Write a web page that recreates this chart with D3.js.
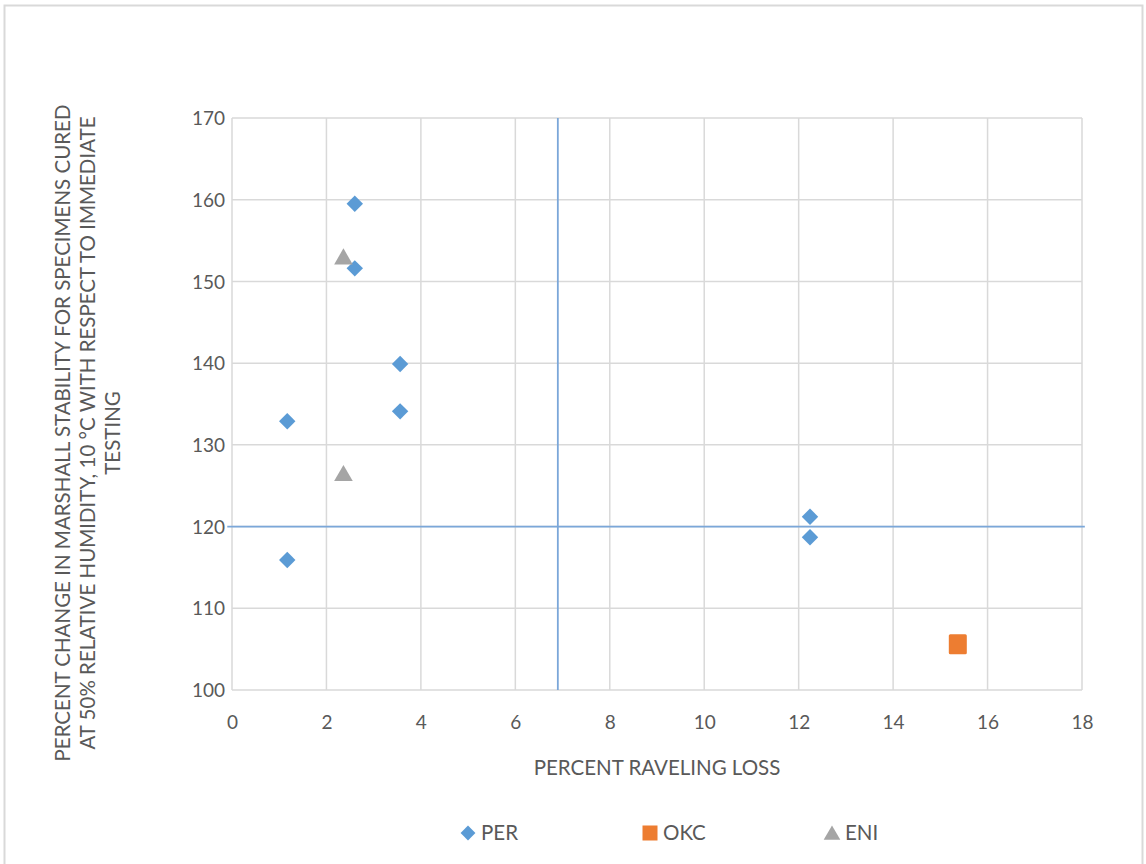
<!DOCTYPE html>
<html><head><meta charset="utf-8">
<script src="https://cdn.jsdelivr.net/npm/d3@7"></script>
<style>
html,body{margin:0;padding:0;background:#fff;}
svg{display:block;}
text{font-family:Lato,"Open Sans",sans-serif;fill:#595959;}
</style></head>
<body>
<script>
// ---- data ----
const perX = [1.17, 1.17, 2.6, 2.6, 3.56, 3.56, 12.24, 12.24];
const perY = [132.9, 115.9, 159.5, 151.6, 139.9, 134.1, 121.2, 118.7];
const okcX = [15.37];
const okcY = [105.6];
const eniX = [2.36, 2.36];
const eniY = [153.1, 126.6];
const refVX = [6.9, 6.9];   // vertical reference line
const refVY = [100, 170];
const refHX = [-0.1, 18.06]; // horizontal reference line
const refHY = [120, 120];
const xTicks = [0, 2, 4, 6, 8, 10, 12, 14, 16, 18];
const yTicks = [100, 110, 120, 130, 140, 150, 160, 170];
const seriesNames = ["PER", "OKC", "ENI"];
const seriesColors = ["#5B9BD5", "#ED7D31", "#A5A5A5"];
const xTitle = "PERCENT RAVELING LOSS";
const yTitleLines = [
  "PERCENT CHANGE IN MARSHALL STABILITY FOR SPECIMENS CURED",
  "AT 50% RELATIVE HUMIDITY, 10 °C WITH RESPECT TO IMMEDIATE",
  "TESTING"
];

const W = 1146, H = 864;
const svg = d3.select("body").append("svg").attr("width", W).attr("height", H);

// chart border
svg.append("rect").attr("x", 4.5).attr("y", 5.5).attr("width", 1138).attr("height", 870)
  .attr("fill", "none").attr("stroke", "#d9d9d9").attr("stroke-width", 2);

const L = 232, R = 1082, T = 118, B = 690;
const x = d3.scaleLinear().domain([0, 18]).range([L, R]);
const y = d3.scaleLinear().domain([100, 170]).range([B, T]);

// grid
const g = svg.append("g");
g.selectAll(".vg").data(xTicks).join("line")
  .attr("x1", d => x(d)).attr("x2", d => x(d)).attr("y1", T).attr("y2", B)
  .attr("stroke", "#d9d9d9").attr("stroke-width", 1.5);
g.selectAll(".hg").data(yTicks).join("line")
  .attr("x1", L).attr("x2", R).attr("y1", d => y(d)).attr("y2", d => y(d))
  .attr("stroke", "#d9d9d9").attr("stroke-width", 1.5);

// tick labels via axes
const xAxis = svg.append("g").attr("transform", `translate(0,${B + 16})`)
  .call(d3.axisBottom(x).tickValues(xTicks).tickSize(0).tickPadding(10));
xAxis.select(".domain").remove();
xAxis.selectAll("text").attr("font-size", 19).style("font-family", "Lato,sans-serif").attr("fill", "#595959");

const yAxis = svg.append("g").attr("transform", `translate(${L - 7},0)`)
  .call(d3.axisLeft(y).tickValues(yTicks).tickSize(0).tickPadding(0));
yAxis.select(".domain").remove();
yAxis.selectAll("text").attr("font-size", 19).attr("dy", "0.35em").style("font-family", "Lato,sans-serif").attr("fill", "#595959");

// reference lines
const line = d3.line().x(d => x(d[0])).y(d => y(d[1]));
svg.append("path").datum(d3.zip(refVX, refVY)).attr("d", line)
  .attr("stroke", "#7BA7D9").attr("stroke-width", 1.8).attr("fill", "none");
svg.append("path").datum(d3.zip(refHX, refHY)).attr("d", line)
  .attr("stroke", "#7BA7D9").attr("stroke-width", 1.8).attr("fill", "none");

// markers
const diamond = d3.symbol().type(d3.symbolSquare).size(135);
svg.selectAll(".per").data(d3.zip(perX, perY)).join("path")
  .attr("d", diamond)
  .attr("transform", d => `translate(${x(d[0])},${y(d[1])}) rotate(45)`)
  .attr("fill", seriesColors[0]);
svg.selectAll(".okc").data(d3.zip(okcX, okcY)).join("rect")
  .attr("x", d => x(d[0]) - 9).attr("y", d => y(d[1]) - 10)
  .attr("width", 18).attr("height", 20).attr("rx", 1.5)
  .attr("fill", seriesColors[1]);
const tri = d3.symbol().type(d3.symbolTriangle).size(150);
svg.selectAll(".eni").data(d3.zip(eniX, eniY)).join("path")
  .attr("d", tri)
  .attr("transform", d => `translate(${x(d[0])},${y(d[1]) + 3})`)
  .attr("fill", seriesColors[2]);

// axis titles
svg.append("text").attr("x", 657).attr("y", 775).attr("text-anchor", "middle")
  .attr("font-size", 20.5).text(xTitle);
const yt = svg.append("text").attr("transform", "translate(0,433) rotate(-90)")
  .attr("text-anchor", "middle").attr("font-size", 20.5);
yTitleLines.forEach((t, i) => {
  yt.append("tspan").attr("x", 0).attr("y", 70 + i * 25).text(t);
});

// legend
const legX = [468, 650, 832];
const leg = svg.append("g");
seriesNames.forEach((n, i) => {
  const cx = legX[i], cy = 833;
  if (i === 0) leg.append("path").attr("d", d3.symbol().type(d3.symbolSquare).size(110)())
    .attr("transform", `translate(${cx},${cy}) rotate(45)`).attr("fill", seriesColors[0]);
  if (i === 1) leg.append("rect").attr("x", cx - 7.5).attr("y", cy - 7.5).attr("width", 15).attr("height", 15).attr("fill", seriesColors[1]);
  if (i === 2) leg.append("path").attr("d", d3.symbol().type(d3.symbolTriangle).size(120)())
    .attr("transform", `translate(${cx},${cy + 2})`).attr("fill", seriesColors[2]);
  leg.append("text").attr("x", cx + 13).attr("y", cy).attr("dy", "0.35em")
    .attr("font-size", 20.5).text(n);
});
</script>
</body></html>
